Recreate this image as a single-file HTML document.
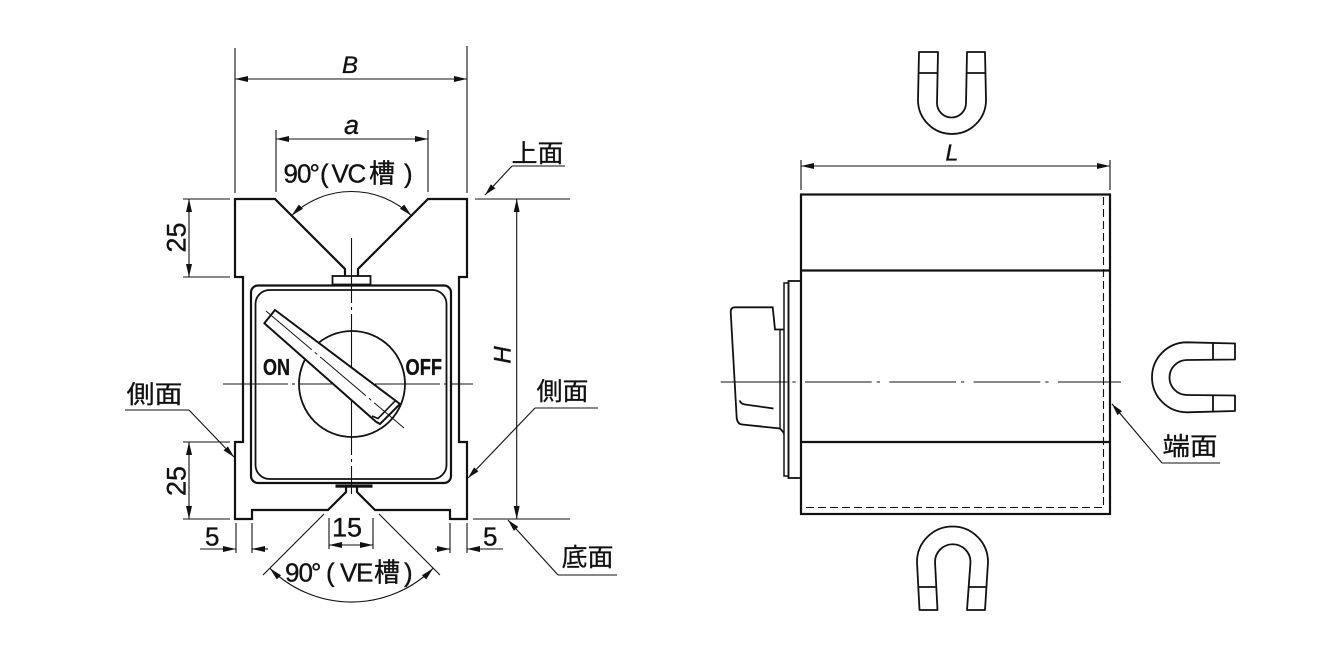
<!DOCTYPE html>
<html>
<head>
<meta charset="utf-8">
<style>
  html,body{margin:0;padding:0;background:#fff;}
  svg{display:block;}
  .t{stroke:#111;stroke-width:2.2;fill:none;stroke-linejoin:miter;}
  .m{stroke:#111;stroke-width:1.8;fill:none;}
  .d{stroke:#111;stroke-width:1.1;fill:none;}
  .c{stroke:#111;stroke-width:1.1;fill:none;stroke-dasharray:65 4 3 4;}
  .h{stroke:#111;stroke-width:1.1;fill:none;stroke-dasharray:8 4;}
  .lt{font-family:"Liberation Sans","Noto Sans CJK JP",sans-serif;fill:#111;stroke:#111;stroke-width:0.35;}
  .it{font-family:"Liberation Sans",sans-serif;font-style:italic;fill:#111;stroke:#111;stroke-width:0.35;}
  .jp{font-family:"Liberation Sans","Noto Sans CJK JP",sans-serif;fill:#111;font-size:25px;stroke:#111;stroke-width:0.25;}
</style>
</head>
<body>
<svg width="1320" height="660" viewBox="0 0 1320 660" xmlns="http://www.w3.org/2000/svg">
  <defs>
    <marker id="ar" viewBox="0 0 13 6" refX="13" refY="3" markerWidth="13" markerHeight="6" markerUnits="userSpaceOnUse" orient="auto-start-reverse">
      <path d="M0,0 L13,3 L0,6 z" fill="#111"/>
    </marker>
    <marker id="al" viewBox="0 0 12 6" refX="12" refY="3" markerWidth="12" markerHeight="6" markerUnits="userSpaceOnUse" orient="auto-start-reverse">
      <path d="M0,0 L12,3 L0,6 z" fill="#111"/>
    </marker>
  </defs>

  <!-- ============ FRONT VIEW ============ -->
  <path class="t" d="M345,276 V269 L275,199 H235 V277 H243 V442 H235 V519 H252 V510 H328 L346,492 V487"/>
  <path class="t" d="M357,487 V492 L375,510 H450 V519 H467 V442 H459 V277 H467 V199 H428 L358,269 V276"/>
  <rect x="332.5" y="276" width="38" height="8.5" class="m"/>
  <rect x="335.5" y="484.5" width="37" height="3.2" fill="#111"/>
  <rect x="251" y="285.5" width="200" height="197.5" rx="7" ry="7" class="t"/>
  <rect x="255.5" y="290" width="191" height="189" rx="14" ry="14" class="m"/>

  <circle cx="352" cy="384" r="53" class="m"/>

  <path class="c" d="M223,384 H473"/>
  <path class="c" d="M351.5,238 V494"/>

  <!-- lever -->
  <path d="M275,310 L400,404 L380,424 L376,421.7 L264.3,323.3 Z" fill="#fff" stroke="#111" stroke-width="2" stroke-linejoin="round"/>
  <path d="M372,416 L378,418.5 L396,400" stroke="#111" stroke-width="1.6" fill="none"/>
  <path d="M266,311 L404,428" stroke="#111" stroke-width="1" fill="none" stroke-dasharray="60 4 3 4"/>

  <text x="263" y="375" class="lt" font-size="23" font-weight="bold" textLength="27" lengthAdjust="spacingAndGlyphs">ON</text>
  <text x="405.5" y="375" class="lt" font-size="23" font-weight="bold" textLength="36.5" lengthAdjust="spacingAndGlyphs">OFF</text>

  <!-- B dimension -->
  <path class="d" d="M235,48 V193 M467,46 V193"/>
  <path class="d" d="M235,79 H467" marker-start="url(#ar)" marker-end="url(#ar)"/>
  <text x="342" y="73" class="it" font-size="24">B</text>

  <!-- a dimension -->
  <path class="d" d="M276,130 V192 M428,130 V192"/>
  <path class="d" d="M276,139 H428" marker-start="url(#ar)" marker-end="url(#ar)"/>
  <text x="344" y="134" class="it" font-size="27">a</text>

  <!-- VC arc -->
  <path class="d" d="M291.6,215.6 A86.5,86.5 0 0 1 411.4,215.6" marker-start="url(#ar)" marker-end="url(#ar)"/>
  <text y="182.5" class="lt" font-size="26" x="283.5 297 309.5 320 331.5 347.5 369 404">90°(VC槽)</text>

  <!-- 上面 -->
  <path class="d" d="M565,166 H512"/>
  <path class="d" d="M512,166 L485,195" marker-end="url(#al)"/>
  <text x="511.5" y="162" class="jp" textLength="52" lengthAdjust="spacingAndGlyphs">上面</text>

  <!-- H dimension -->
  <path class="d" d="M475,199 H570 M473,519 H570"/>
  <path class="d" d="M516.7,199 V519" marker-start="url(#ar)" marker-end="url(#ar)"/>
  <text transform="translate(510.5,355) rotate(-90)" text-anchor="middle" class="it" font-size="24">H</text>

  <!-- 25 top -->
  <path class="d" d="M183,199 H230 M183,277 H230"/>
  <path class="d" d="M189,199 V277" marker-start="url(#ar)" marker-end="url(#ar)"/>
  <text transform="translate(185.5,237.5) rotate(-90)" text-anchor="middle" class="lt" font-size="27">25</text>

  <!-- 25 bottom -->
  <path class="d" d="M183,442 H230 M183,519 H230"/>
  <path class="d" d="M189,442 V519" marker-start="url(#ar)" marker-end="url(#ar)"/>
  <text transform="translate(185.5,481) rotate(-90)" text-anchor="middle" class="lt" font-size="27">25</text>

  <!-- 側面 left -->
  <path class="d" d="M125,410 H189"/>
  <path class="d" d="M189,410 L234,457" marker-end="url(#al)"/>
  <text x="126.5" y="403" class="jp" textLength="56" lengthAdjust="spacingAndGlyphs">側面</text>

  <!-- 側面 right -->
  <path class="d" d="M598,408 H535"/>
  <path class="d" d="M535,408 L468,478" marker-end="url(#al)"/>
  <text x="536.5" y="400" class="jp" textLength="52" lengthAdjust="spacingAndGlyphs">側面</text>

  <!-- 底面 -->
  <path class="d" d="M617,575 H558"/>
  <path class="d" d="M558,575 L508,520" marker-end="url(#al)"/>
  <text x="561.5" y="566" class="jp" textLength="52" lengthAdjust="spacingAndGlyphs">底面</text>

  <!-- 5 left -->
  <path class="d" d="M236,523 V553 M252,523 V553"/>
  <path class="d" d="M200,549 H236" marker-end="url(#ar)"/>
  <path class="d" d="M268,549 H252" marker-end="url(#ar)"/>
  <text x="205" y="545.5" class="lt" font-size="26">5</text>

  <!-- 5 right -->
  <path class="d" d="M450,523 V553 M467,523 V553"/>
  <path class="d" d="M435,549 H450" marker-end="url(#ar)"/>
  <path class="d" d="M503,549 H467" marker-end="url(#ar)"/>
  <text x="483" y="545.5" class="lt" font-size="26">5</text>

  <!-- 15 -->
  <path class="d" d="M329,518 V549 M373,518 V549"/>
  <path class="d" d="M329,545 H373" marker-start="url(#ar)" marker-end="url(#ar)"/>
  <text x="332" y="536.5" class="lt" font-size="27">15</text>

  <!-- VE extension lines & arc -->
  <path class="d" d="M324,514 L263,575 M379,514 L440,575"/>
  <path class="d" d="M269.8,568.2 A115.5,115.5 0 0 0 433.2,568.2" marker-start="url(#ar)" marker-end="url(#ar)"/>
  <text y="581.5" class="lt" font-size="26" x="285 298.5 311 326 340 356 374 404">90°(VE槽)</text>

  <!-- ============ SIDE VIEW ============ -->
  <rect x="801" y="194.5" width="309" height="319.5" class="t"/>
  <path class="t" d="M801,270.5 H1110 M801,442 H1110"/>
  <path class="h" d="M1103.5,197 V507.5 H803"/>

  <path class="d" d="M801,160 V190 M1110,160 V190"/>
  <path class="d" d="M801,166 H1110" marker-start="url(#ar)" marker-end="url(#ar)"/>
  <text x="945.5" y="160.5" class="it" font-size="23">L</text>

  <rect x="788.5" y="281" width="12.5" height="197" class="m"/>
  <rect x="784" y="283" width="4.5" height="193" stroke="#111" stroke-width="1.5" fill="none"/>

  <path class="m" d="M783.5,329.5 H775 L772.7,307.3 H734.5 Q730.7,307.5 730.7,312 L736.7,418 Q737.5,424 742,424.5 L780,428.5 L784,433"/>
  <path stroke="#111" stroke-width="1.4" fill="none" d="M780,329.5 V428.5"/>
  <path class="m" d="M739.5,400.5 Q741,404 745,404.5 L773.5,408.5"/>

  <path d="M720.7,382 H1121" stroke="#111" stroke-width="1.1" fill="none" stroke-dasharray="66.7 5 3.3 9.3"/>

  <!-- 端面 -->
  <path class="d" d="M1220,463 H1162"/>
  <path class="d" d="M1162,463 L1112,404" marker-end="url(#al)"/>
  <text x="1162.5" y="455" class="jp" textLength="55" lengthAdjust="spacingAndGlyphs">端面</text>

  <!-- magnet top -->
  <path class="m" stroke-linejoin="round" d="M919,52 L918,100 A34,34 0 0 0 986,100 L985,52 L967,52 L966,103 A14.5,14.5 0 0 1 937,103 L938,52 Z"/>
  <path class="m" d="M918.5,73 H937.5 M966.5,73 H985.5"/>

  <!-- magnet bottom -->
  <path class="m" stroke-linejoin="round" d="M917,562 A35.5,35.5 0 0 1 988,562 L985,610 L967,610 L970.5,562 A17.75,17.75 0 0 0 935,562 L937.5,610 L919.5,610 Z"/>
  <path class="m" d="M918.5,587 H936.5 M968,587 H986"/>

  <!-- magnet right -->
  <path class="m" stroke-linejoin="round" d="M1187,342.3 A35,35 0 0 0 1187,412.3 L1235,411 L1235,395.5 L1187,395 A17.5,17.5 0 0 1 1187,360 L1235,359.5 L1235,343.5 Z"/>
  <path class="m" d="M1213,343 V360 M1213,395 V411.5"/>
</svg>
</body>
</html>
